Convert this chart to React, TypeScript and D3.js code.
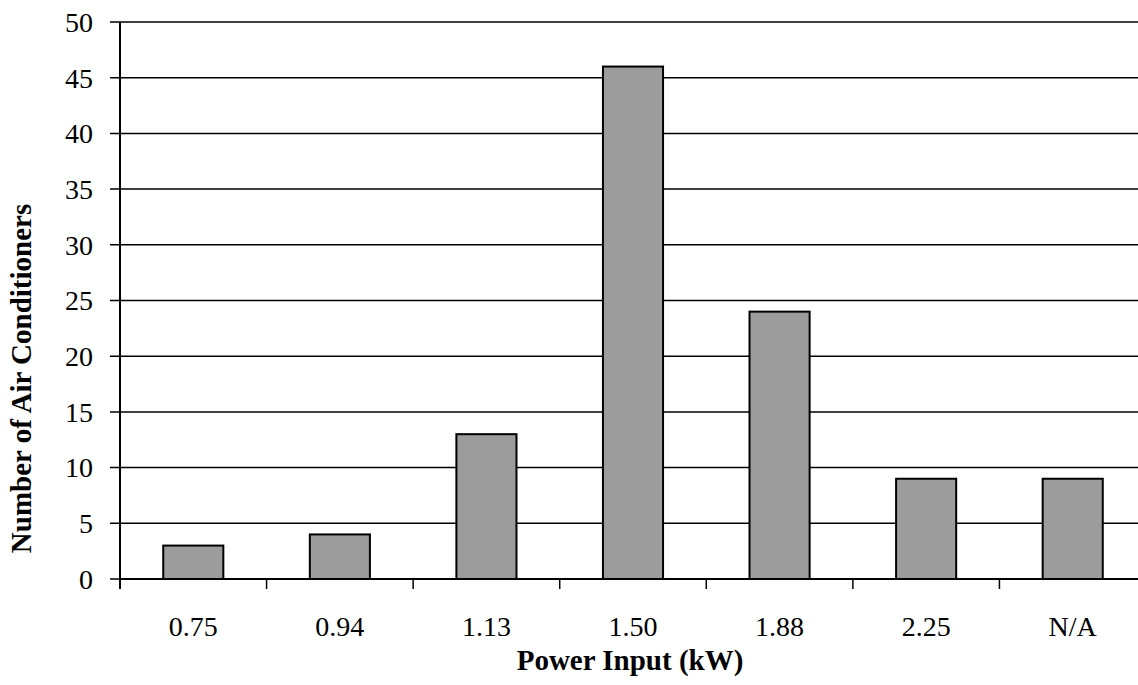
import React from "react";
import * as d3 from "d3";

const categories = ["0.75", "0.94", "1.13", "1.50", "1.88", "2.25", "N/A"];
const counts = [3, 4, 13, 46, 24, 9, 9];
const yTicks = [0, 5, 10, 15, 20, 25, 30, 35, 40, 45, 50];

const W = 1138, H = 685;
const left = 120, right = 1146, top = 22, bottom = 579;

export default function App() {
  const x = d3.scaleBand<string>().domain(categories).range([left, right]).paddingInner(0.59).paddingOuter(0.295);
  const xb = d3.scaleBand<string>().domain(categories).range([left, right]);
  const y = d3.scaleLinear().domain([0, 50]).range([bottom, top]);
  const font = "'Liberation Serif', 'Times New Roman', serif";
  return (
    <svg width={W} height={H} style={{ position: "absolute", left: 0, top: 0, background: "#fff" }}>
      <rect x={0} y={0} width={W} height={H} fill="#fff" />
      {yTicks.map((t) => (
        <g key={t}>
          <line x1={left - 10} x2={right} y1={y(t)} y2={y(t)} stroke="#000" strokeWidth={1.5} />
          <text x={93} y={y(t)} dy="0.35em" textAnchor="end" fontFamily={font} fontSize={28}>{t}</text>
        </g>
      ))}
      {categories.map((c, i) => (
        <rect key={c} x={x(c)} y={y(counts[i])} width={x.bandwidth()} height={bottom - y(counts[i])}
          fill="#9c9c9c" stroke="#000" strokeWidth={2} />
      ))}
      <line x1={left} x2={left} y1={top} y2={bottom + 10} stroke="#000" strokeWidth={2} />
      <line x1={left} x2={right} y1={bottom} y2={bottom} stroke="#000" strokeWidth={2} />
      {categories.map((c) => (
        <line key={"t" + c} x1={(xb(c) as number) + xb.bandwidth()} x2={(xb(c) as number) + xb.bandwidth()} y1={bottom} y2={bottom + 10} stroke="#000" strokeWidth={1.5} />
      ))}
      {categories.map((c) => (
        <text key={"l" + c} x={(xb(c) as number) + xb.bandwidth() / 2} y={636} textAnchor="middle" fontFamily={font} fontSize={28}>{c}</text>
      ))}
      <text x={630} y={670} textAnchor="middle" fontFamily={font} fontSize={29} fontWeight="bold">Power Input (kW)</text>
      <text transform={`translate(31,${(top + bottom) / 2 + 78}) rotate(-90)`} textAnchor="middle" fontFamily={font} fontSize={29} fontWeight="bold">Number of Air Conditioners</text>
    </svg>
  );
}
